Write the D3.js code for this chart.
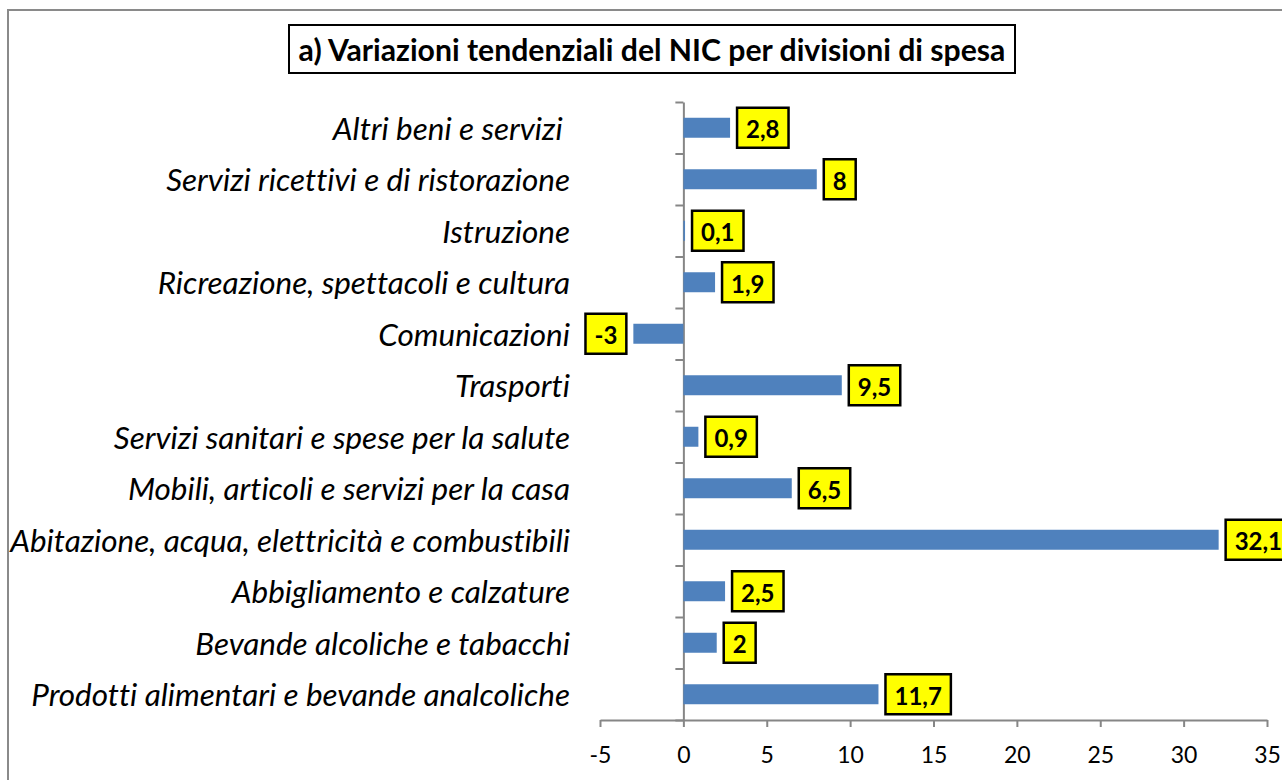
<!DOCTYPE html>
<html><head><meta charset="utf-8">
<script src="https://cdn.jsdelivr.net/npm/d3@7"></script>
<style>body{margin:0;background:#fff;overflow:hidden;} svg{display:block;} text{font-variant-ligatures:none;font-feature-settings:"liga" 0;}</style>
</head><body><svg id="c" width="1282" height="780"></svg>
<script>
const categories = ["Prodotti alimentari e bevande analcoliche", "Bevande alcoliche e tabacchi", "Abbigliamento e calzature", "Abitazione, acqua, elettricità e combustibili", "Mobili, articoli e servizi per la casa", "Servizi sanitari e spese per la salute", "Trasporti", "Comunicazioni", "Ricreazione, spettacoli e cultura", "Istruzione", "Servizi ricettivi e di ristorazione", "Altri beni e servizi "];
const values = [11.7, 2, 2.5, 32.1, 6.5, 0.9, 9.5, -3, 1.9, 0.1, 8, 2.8];
const valueLabels = ["11,7", "2", "2,5", "32,1", "6,5", "0,9", "9,5", "-3", "1,9", "0,1", "8", "2,8"];
const xTicks = [-5, 0, 5, 10, 15, 20, 25, 30, 35];
const title = "a) Variazioni tendenziali del NIC per divisioni di spesa";

const FONT = "Lato, 'Open Sans', sans-serif";
const svg = d3.select("#c");

// outer chart border
svg.append("rect").attr("x", 8).attr("y", 10).attr("width", 1300).attr("height", 800)
  .attr("fill", "#fff").attr("stroke", "#8a8a8a").attr("stroke-width", 2);

const x = d3.scaleLinear().domain([-5, 35]).range([600, 1267]);
const y = d3.scaleBand().domain(categories.slice().reverse()).range([102, 720])
  .paddingInner(0.612).paddingOuter(0.306);
const yB = d3.scaleLinear().domain([0, categories.length]).range([720, 102]);

// title
const tg = svg.append("g");
const tt = tg.append("text").text(title).attr("x", 652).attr("y", 49)
  .attr("text-anchor", "middle").attr("dominant-baseline", "central")
  .attr("font-family", FONT).attr("font-weight", "bold").attr("font-size", 24).attr("fill", "#000");
let tw = tt.node().getComputedTextLength();
tt.attr("font-size", 24 * 707 / tw);
tg.insert("rect", "text").attr("x", 289).attr("y", 25).attr("width", 726).attr("height", 48)
  .attr("fill", "#fff").attr("stroke", "#000").attr("stroke-width", 2);

// x axis
const xAxis = svg.append("g").attr("transform", "translate(0,720)")
  .call(d3.axisBottom(x).tickValues(xTicks).tickSize(7).tickSizeOuter(0).tickFormat(d => String(d)));
xAxis.select(".domain").attr("stroke", "#868686").attr("stroke-width", 2);
xAxis.selectAll(".tick line").attr("stroke", "#868686").attr("stroke-width", 2);
xAxis.selectAll(".tick text").attr("font-family", FONT).attr("font-size", 23).attr("fill", "#000")
  .attr("y", 27).attr("dy", "0.71em");

// y axis (category boundaries)
const yAxis = svg.append("g").attr("transform", `translate(${x(0)},0)`)
  .call(d3.axisLeft(yB).tickValues(d3.range(0, categories.length + 1)).tickSize(8).tickSizeOuter(0).tickFormat(""));
yAxis.select(".domain").attr("stroke", "#868686").attr("stroke-width", 2);
yAxis.selectAll(".tick line").attr("stroke", "#868686").attr("stroke-width", 2);

// category labels
const labs = svg.append("g").selectAll("text").data(categories).join("text")
  .attr("x", 570).attr("y", d => y(d) + y.bandwidth() / 2)
  .attr("text-anchor", "end").attr("dominant-baseline", "central")
  .attr("font-family", FONT).attr("font-style", "italic").attr("font-size", 24)
  .attr("fill", "#000").style("white-space", "pre").text(d => d);
const longest = d3.max(labs.nodes(), n => n.getComputedTextLength());
labs.attr("font-size", 24 * 560 / longest);

// bars
const data = categories.map((c, i) => ({ c, v: values[i], l: valueLabels[i] }));
svg.append("g").selectAll("rect").data(data).join("rect")
  .attr("x", d => x(Math.min(0, d.v)))
  .attr("width", d => Math.abs(x(d.v) - x(0)))
  .attr("y", d => y(d.c)).attr("height", y.bandwidth())
  .attr("fill", "#4F81BD");

// value labels
const lg = svg.append("g").selectAll("g").data(data).join("g");
lg.each(function (d) {
  const g = d3.select(this);
  const cy = y(d.c) + y.bandwidth() / 2;
  const t = g.append("text").text(d.l).attr("font-family", FONT).attr("font-weight", "bold")
    .attr("font-size", 24).attr("dominant-baseline", "central").attr("text-anchor", "middle").attr("fill", "#000");
  const w = t.node().getComputedTextLength() + 18;
  const bx = d.v >= 0 ? x(d.v) + 7 : x(d.v) - 7 - w;
  g.insert("rect", "text").attr("x", bx).attr("y", cy - 20).attr("width", w).attr("height", 40)
    .attr("fill", "#FFFF00").attr("stroke", "#000").attr("stroke-width", 2.5);
  t.attr("x", bx + w / 2).attr("y", cy + 1);
});
</script></body></html>
